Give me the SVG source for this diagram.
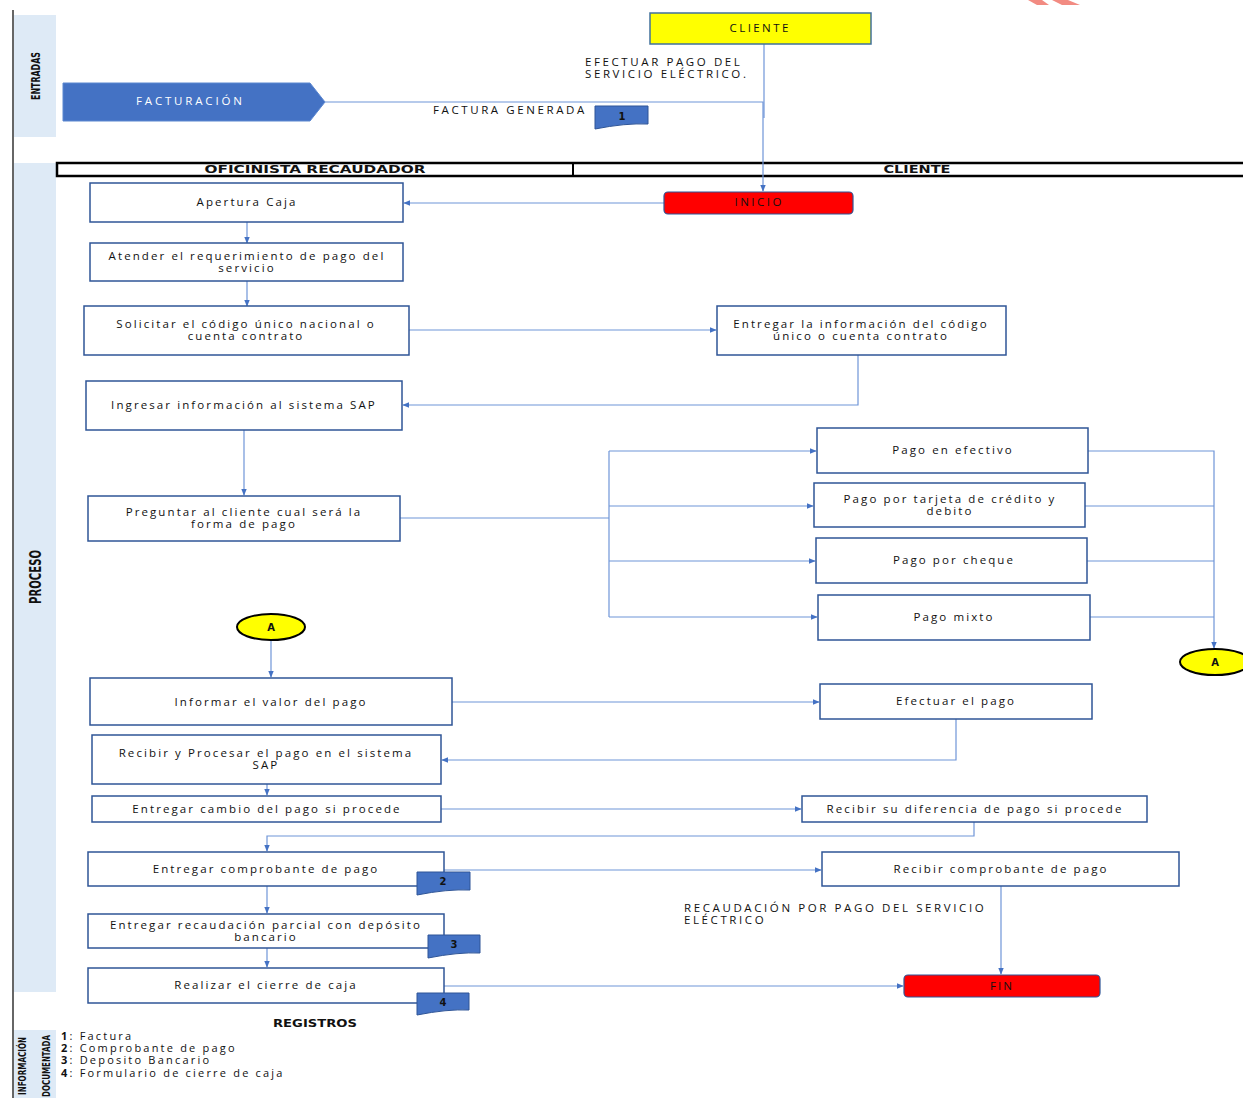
<svg xmlns="http://www.w3.org/2000/svg" width="1243" height="1098" viewBox="0 0 1243 1098">
<defs>
<marker id="ah" viewBox="0 0 10 10" refX="9" refY="5" markerWidth="7" markerHeight="7" markerUnits="userSpaceOnUse" orient="auto"><path d="M0,1 L10,5 L0,9 Z" fill="#4472c4"/></marker>
<style>
.band{fill:#deeaf6}
.box{fill:#fff;stroke:#2f5597;stroke-width:1.5}
.t{font-family:"Open Sans","DejaVu Sans",sans-serif;font-size:11.5px;letter-spacing:2.1px;fill:#111;text-anchor:middle;dominant-baseline:middle}
.lbl{font-family:"Open Sans","DejaVu Sans",sans-serif;font-size:11.5px;letter-spacing:2.6px;fill:#111}
.leg{font-family:"Open Sans","DejaVu Sans",sans-serif;font-size:11px;letter-spacing:2.2px;fill:#111}
.side{font-family:"DejaVu Sans Condensed","DejaVu Sans",sans-serif;font-stretch:condensed;font-weight:bold;fill:#111;text-anchor:middle;dominant-baseline:middle}
.hdr{font-family:"DejaVu Sans","Liberation Sans",sans-serif;font-weight:bold;font-size:11px;fill:#111;text-anchor:middle;dominant-baseline:middle}
.c{fill:none;stroke:#6f95d8;stroke-width:1.2}
.doc{fill:#4472c4;stroke:#2f5597;stroke-width:1}
.dn{font-family:"DejaVu Sans",sans-serif;font-weight:bold;font-size:10px;fill:#111;text-anchor:middle;dominant-baseline:middle}
.term{fill:#ff0000;stroke:#2f5597;stroke-width:1.2}
.conn{fill:#ffff00;stroke:#000;stroke-width:2}
</style>
</defs>
<rect width="1243" height="1098" fill="#fff"/>
<polygon points="1028,0 1042,0 1049,5 1037,5" fill="#f28b82"/>
<polygon points="1052,0 1068,0 1080,5 1062,5" fill="#f28b82"/>
<line x1="13" y1="10" x2="13" y2="1098" stroke="#333" stroke-width="1.5"/>
<g id="bands">
<rect class="band" x="14" y="15" width="42" height="122"/>
<text class="side" font-size="13" transform="translate(36,76) rotate(-90)" textLength="48" lengthAdjust="spacingAndGlyphs">ENTRADAS</text>
<rect class="band" x="14" y="163" width="42" height="829"/>
<text class="side" font-size="15" transform="translate(36,577) rotate(-90)" textLength="54" lengthAdjust="spacingAndGlyphs">PROCESO</text>
<rect class="band" x="14" y="1030" width="42" height="68"/>
<text class="side" font-size="11" transform="translate(23,1066) rotate(-90)" textLength="58" lengthAdjust="spacingAndGlyphs">INFORMACIÓN</text>
<text class="side" font-size="11" transform="translate(47,1066) rotate(-90)" textLength="62" lengthAdjust="spacingAndGlyphs">DOCUMENTADA</text>
</g>
<g id="header">
<rect x="57" y="163" width="1190" height="13" fill="#fff" stroke="#000" stroke-width="2.5"/>
<line x1="573" y1="163" x2="573" y2="176" stroke="#000" stroke-width="2"/>
<text class="hdr" x="315" y="170" textLength="221" lengthAdjust="spacingAndGlyphs">OFICINISTA RECAUDADOR</text>
<text class="hdr" x="917" y="170" textLength="67" lengthAdjust="spacingAndGlyphs">CLIENTE</text>
</g>
<g id="connectors">
<polyline class="c" points="325,102 763,102 763,191" marker-end="url(#ah)"/>
<line class="c" x1="764" y1="44" x2="764" y2="118"/>
<line class="c" x1="664" y1="203" x2="404" y2="203" marker-end="url(#ah)"/>
<line class="c" x1="247" y1="222" x2="247" y2="243" marker-end="url(#ah)"/>
<line class="c" x1="247" y1="281" x2="247" y2="306" marker-end="url(#ah)"/>
<line class="c" x1="409" y1="330" x2="716" y2="330" marker-end="url(#ah)"/>
<polyline class="c" points="858,355 858,405 403,405" marker-end="url(#ah)"/>
<line class="c" x1="244" y1="430" x2="244" y2="495" marker-end="url(#ah)"/>
<polyline class="c" points="400,518 609,518"/>
<line class="c" x1="609" y1="451" x2="609" y2="617"/>
<line class="c" x1="609" y1="451" x2="816" y2="451" marker-end="url(#ah)"/>
<line class="c" x1="609" y1="506" x2="813" y2="506" marker-end="url(#ah)"/>
<line class="c" x1="609" y1="561" x2="815" y2="561" marker-end="url(#ah)"/>
<line class="c" x1="609" y1="617" x2="817" y2="617" marker-end="url(#ah)"/>
<polyline class="c" points="1088,451 1214,451 1214,648" marker-end="url(#ah)"/>
<line class="c" x1="1085" y1="506" x2="1214" y2="506"/>
<line class="c" x1="1087" y1="561" x2="1214" y2="561"/>
<line class="c" x1="1090" y1="617" x2="1214" y2="617"/>
<line class="c" x1="271" y1="640" x2="271" y2="677" marker-end="url(#ah)"/>
<line class="c" x1="452" y1="702" x2="819" y2="702" marker-end="url(#ah)"/>
<polyline class="c" points="956,719 956,760 442,760" marker-end="url(#ah)"/>
<line class="c" x1="267" y1="784" x2="267" y2="795" marker-end="url(#ah)"/>
<line class="c" x1="441" y1="809" x2="801" y2="809" marker-end="url(#ah)"/>
<polyline class="c" points="974,822 974,836 267,836 267,851" marker-end="url(#ah)"/>
<line class="c" x1="444" y1="870" x2="821" y2="870" marker-end="url(#ah)"/>
<line class="c" x1="267" y1="886" x2="267" y2="913" marker-end="url(#ah)"/>
<line class="c" x1="267" y1="948" x2="267" y2="967" marker-end="url(#ah)"/>
<line class="c" x1="444" y1="986" x2="903" y2="986" marker-end="url(#ah)"/>
<line class="c" x1="1001" y1="886" x2="1001" y2="974" marker-end="url(#ah)"/>
</g>
<g id="facturacion">
<polygon points="63,83 310,83 325,102 310,121 63,121" fill="#4472c4" stroke="#5b87d0" stroke-width="1"/>
<text class="t" x="190" y="102" style="fill:#fff" textLength="108" lengthAdjust="spacing">FACTURACIÓN</text>
</g>
<g id="cliente-top">
<rect x="650" y="13" width="221" height="31" fill="#ffff00" stroke="#41719c" stroke-width="1.5"/>
<text class="t" x="760" y="29" textLength="61" lengthAdjust="spacing">CLIENTE</text>
</g>
<g id="labels">
<text class="lbl" x="585" y="66">EFECTUAR PAGO DEL</text>
<text class="lbl" x="585" y="78">SERVICIO ELÉCTRICO.</text>
<text class="lbl" x="433" y="114">FACTURA GENERADA</text>
<text class="lbl" x="684" y="912">RECAUDACIÓN POR PAGO DEL SERVICIO</text>
<text class="lbl" x="684" y="924">ELÉCTRICO</text>
</g>
<g id="doc1"><path class="doc" d="M595,106 H648 V124 Q625,123 595,129 Z"/><text class="dn" x="622" y="117">1</text></g>
<g id="inicio"><rect class="term" x="664" y="192" width="189" height="22" rx="4"/><text class="t" x="759" y="203" textLength="49" lengthAdjust="spacing">INICIO</text></g>
<g id="n-apertura"><rect class="box" x="90" y="183" width="313" height="39"/><text class="t" x="247" y="203">Apertura  Caja</text></g>
<g id="n-atender"><rect class="box" x="90" y="243" width="313" height="38"/><text class="t" x="247" y="257">Atender el requerimiento de pago del</text><text class="t" x="247" y="269">servicio</text></g>
<g id="n-solicitar"><rect class="box" x="84" y="306" width="325" height="49"/><text class="t" x="246" y="325">Solicitar el código único nacional o</text><text class="t" x="246" y="337">cuenta contrato</text></g>
<g id="n-entregarinfo"><rect class="box" x="717" y="306" width="289" height="49"/><text class="t" x="861" y="325">Entregar la información del código</text><text class="t" x="861" y="337">único  o cuenta contrato</text></g>
<g id="n-ingresar"><rect class="box" x="86" y="381" width="316" height="49"/><text class="t" x="244" y="406">Ingresar información al sistema SAP</text></g>
<g id="n-preguntar"><rect class="box" x="88" y="496" width="312" height="45"/><text class="t" x="244" y="513">Preguntar al cliente cual será la</text><text class="t" x="244" y="525">forma de pago</text></g>
<g id="n-efectivo"><rect class="box" x="817" y="428" width="271" height="45"/><text class="t" x="953" y="451">Pago en efectivo</text></g>
<g id="n-tarjeta"><rect class="box" x="814" y="483" width="271" height="44"/><text class="t" x="950" y="500">Pago por tarjeta de crédito y</text><text class="t" x="950" y="512">debito</text></g>
<g id="n-cheque"><rect class="box" x="816" y="538" width="271" height="45"/><text class="t" x="954" y="561">Pago por cheque</text></g>
<g id="n-mixto"><rect class="box" x="818" y="595" width="272" height="45"/><text class="t" x="954" y="618">Pago mixto</text></g>
<g id="conn-a-right"><ellipse class="conn" cx="1215" cy="662" rx="35" ry="13"/><text class="dn" x="1215" y="663">A</text></g>
<g id="conn-a-left"><ellipse class="conn" cx="271" cy="627" rx="34" ry="13"/><text class="dn" x="271" y="628">A</text></g>
<g id="n-informar"><rect class="box" x="90" y="678" width="362" height="47"/><text class="t" x="271" y="703">Informar el valor del pago</text></g>
<g id="n-efectuar"><rect class="box" x="820" y="684" width="272" height="35"/><text class="t" x="956" y="702">Efectuar el pago</text></g>
<g id="n-procesar"><rect class="box" x="92" y="735" width="349" height="49"/><text class="t" x="266" y="754">Recibir y Procesar el pago en el sistema</text><text class="t" x="266" y="766">SAP</text></g>
<g id="n-cambio"><rect class="box" x="92" y="796" width="349" height="26"/><text class="t" x="267" y="810">Entregar cambio del pago si procede</text></g>
<g id="n-diferencia"><rect class="box" x="802" y="796" width="345" height="26"/><text class="t" x="975" y="810">Recibir su diferencia de pago si procede</text></g>
<g id="n-comprobante"><rect class="box" x="88" y="852" width="356" height="34"/><text class="t" x="266" y="870">Entregar comprobante de pago</text></g>
<g id="doc2"><path class="doc" d="M417,872 H470 V890 Q447,889 417,895 Z"/><text class="dn" x="443" y="882">2</text></g>
<g id="n-recibircomp"><rect class="box" x="822" y="852" width="357" height="34"/><text class="t" x="1001" y="870">Recibir comprobante de pago</text></g>
<g id="n-recaudacion"><rect class="box" x="88" y="914" width="356" height="34"/><text class="t" x="266" y="926">Entregar  recaudación parcial con depósito</text><text class="t" x="266" y="938">bancario</text></g>
<g id="doc3"><path class="doc" d="M428,935 H480 V953 Q458,952 428,958 Z"/><text class="dn" x="454" y="945">3</text></g>
<g id="n-cierre"><rect class="box" x="88" y="968" width="356" height="35"/><text class="t" x="266" y="986">Realizar el cierre de caja</text></g>
<g id="doc4"><path class="doc" d="M417,993 H469 V1010 Q447,1009 417,1015 Z"/><text class="dn" x="443" y="1003">4</text></g>
<g id="fin"><rect class="term" x="904" y="975" width="196" height="22" rx="4"/><text class="t" x="1002" y="987" textLength="24" lengthAdjust="spacing">FIN</text></g>
<g id="registros">
<text class="hdr" x="315" y="1024" font-size="10" textLength="84" lengthAdjust="spacingAndGlyphs">REGISTROS</text>
<text class="leg" x="61" y="1040"><tspan font-weight="bold">1</tspan>: Factura</text>
<text class="leg" x="61" y="1052"><tspan font-weight="bold">2</tspan>: Comprobante de pago</text>
<text class="leg" x="61" y="1064"><tspan font-weight="bold">3</tspan>: Deposito Bancario</text>
<text class="leg" x="61" y="1077"><tspan font-weight="bold">4</tspan>: Formulario de cierre de caja</text>
</g>
</svg>
